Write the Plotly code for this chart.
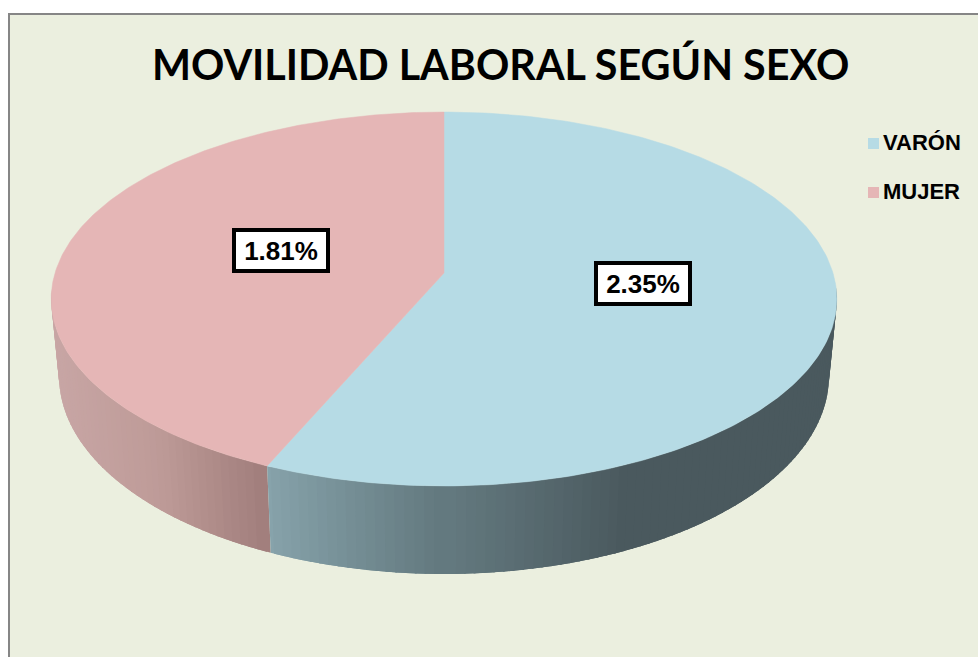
"""3D-looking pie of labour mobility by sex, drawn with filled scatter polygons."""

import numpy as np
import plotly.graph_objects as go

# --- data ---
categories = ["VARÓN", "MUJER"]
values = [2.35, 1.81]
value_labels = ["2.35%", "1.81%"]
title_text = "MOVILIDAD LABORAL SEGÚN SEXO"

# --- style ---
top_colors = ["#b6dbe5", "#e5b6b6"]
# wall colour as (x pixel, rgb) stops, per slice
wall_stops = [
    [(270, (135, 163, 171)), (440, (100, 122, 128)), (620, (74, 89, 94)), (840, (74, 89, 94))],
    [(50, (200, 166, 165)), (160, (190, 155, 152)), (268, (161, 126, 124))],
]
BG = "#ebefdf"

# projection of the disc (perspective: near edge is bigger), in page pixels
CX, CY, RADIUS = 444, 273, 389
PERSP, SQUASH, DEPTH, SHRINK = -0.139, 145.4, 75.8, 0.98


def project(theta, lower=False):
    """theta in radians, clockwise from the top of the pie."""
    u, v = np.sin(theta), -np.cos(theta)
    w = 1 + PERSP * v
    if lower:
        return CX + SHRINK * RADIUS * u / w, (SQUASH * v + CY + DEPTH) / w
    return CX + RADIUS * u / w, (SQUASH * v + CY) / w


def wall_color(stops, x):
    xs = [s[0] for s in stops]
    rgb = [np.interp(x, xs, [s[1][i] for s in stops]) for i in range(3)]
    return "rgb(%d,%d,%d)" % tuple(round(c) for c in rgb)


fracs = np.cumsum([0] + values) / sum(values) * 2 * np.pi

fig = go.Figure()

# --- side walls: overlapping bands, painted from the far edge to the near edge ---
slices = []
for i in range(len(values)):
    angles = np.linspace(fracs[i], fracs[i + 1], int((fracs[i + 1] - fracs[i]) * 45) + 2)
    step = angles[1] - angles[0]
    for a in angles[:-1]:
        slices.append((i, a, a + step, max(a - step * 0.6, fracs[i]), min(a + step * 1.6, fracs[i + 1])))
slices.sort(key=lambda s: -np.cos((s[1] + s[2]) / 2))

for i, a, b, lo, hi in slices:
    if -np.cos((a + b) / 2) < 0.1:
        continue
    arc = np.linspace(lo, hi, 6)
    xs_top, ys_top = project(arc)
    xs_low, ys_low = project(arc[::-1], lower=True)
    mid_x = np.mean(project(np.array([a, b]))[0])
    color = wall_color(wall_stops[i], mid_x)
    fig.add_trace(
        go.Scatter(
            x=[*xs_top, *xs_low, xs_top[0]],
            y=[*ys_top, *ys_low, ys_top[0]],
            mode="lines",
            fill="toself",
            fillcolor=color,
            line=dict(color=color, width=0),
            hoverinfo="skip",
            showlegend=False,
        )
    )

# --- top faces ---
for i, name in enumerate(categories):
    arc = np.linspace(fracs[i], fracs[i + 1], 240)
    xs, ys = project(arc)
    fig.add_trace(
        go.Scatter(
            x=[CX, *xs, CX],
            y=[CY, *ys, CY],
            mode="lines",
            fill="toself",
            fillcolor=top_colors[i],
            line=dict(color=top_colors[i], width=0.5),
            name=name,
            hoverinfo="name",
            showlegend=False,
        )
    )

# --- legend, hand placed like the original ---
legend_x = [873.5, 873.5]
legend_y = [143.5, 192.5]
fig.add_trace(
    go.Scatter(
        x=legend_x,
        y=legend_y,
        mode="markers",
        marker=dict(symbol="square", size=11, color=top_colors),
        hoverinfo="skip",
        showlegend=False,
    )
)
for name, ly in zip(categories, legend_y):
    fig.add_annotation(
        x=881,
        y=ly - 1,
        text=f"<b>{name}</b>",
        showarrow=False,
        xanchor="left",
        font=dict(family="Liberation Sans", size=22, color="#000000"),
    )

# --- value labels ---
label_pos = [(643, 283), (281, 250.5)]
for text, (lx, ly) in zip(value_labels, label_pos):
    fig.add_annotation(
        x=lx,
        y=ly,
        text=f"<b>{text}</b>",
        showarrow=False,
        bgcolor="#ffffff",
        bordercolor="#000000",
        borderwidth=4,
        borderpad=3,
        width=84,
        height=31,
        font=dict(family="Liberation Sans", size=26, color="#000000"),
    )

fig.add_annotation(
    x=500,
    y=64,
    text=f"<b>{title_text}</b>",
    showarrow=False,
    font=dict(family="Lato", size=41.3, color="#000000"),
)

fig.update_layout(
    width=978,
    height=657,
    margin=dict(l=0, r=0, t=0, b=0),
    paper_bgcolor="#ffffff",
    plot_bgcolor="#ffffff",
    showlegend=False,
    xaxis=dict(range=[0, 978], visible=False, fixedrange=True),
    yaxis=dict(range=[657, 0], visible=False, fixedrange=True),
    shapes=[
        dict(
            type="rect",
            xref="x",
            yref="y",
            x0=9,
            y0=14,
            x1=1000,
            y1=700,
            fillcolor=BG,
            line=dict(color="#868686", width=2),
            layer="below",
        )
    ],
)

fig.write_html(
    "out.html",
    config={"displayModeBar": False},
    post_script="document.body.style.margin='0';document.body.style.overflow='hidden';",
)
